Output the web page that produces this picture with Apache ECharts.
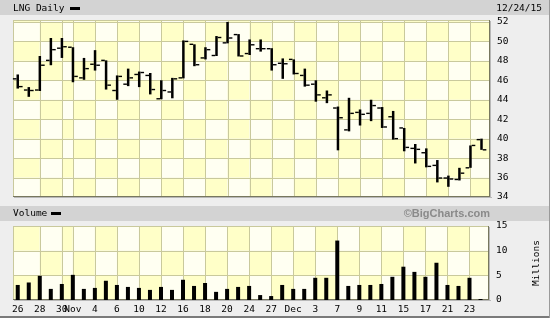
<!DOCTYPE html>
<html><head><meta charset="utf-8">
<script src="https://cdn.jsdelivr.net/npm/echarts@6/dist/echarts.min.js"></script>
<style>html,body{margin:0;padding:0;background:#eeeeee;}#c{width:550px;height:318px;}</style>
</head><body><div id="c"></div>
<script>
// ---- data ----
const dates = ['10/26','10/27','10/28','10/29','10/30','11/02','11/03','11/04','11/05','11/06','11/09','11/10','11/11','11/12','11/13','11/16','11/17','11/18','11/19','11/20','11/23','11/24','11/25','11/27','11/30','12/01','12/02','12/03','12/04','12/07','12/08','12/09','12/10','12/11','12/14','12/15','12/16','12/17','12/18','12/21','12/22','12/23','12/24'];
const openP  = [46.15,45.0,45.0,48.05,49.3,49.4,46.25,47.65,48.05,44.95,45.6,46.6,46.5,44.1,44.8,46.25,49.7,48.3,48.55,49.85,50.7,48.75,49.25,49.25,47.75,48.15,46.5,45.6,44.2,43.15,40.9,42.7,42.6,43.15,42.25,41.1,39.0,38.55,37.25,35.95,35.8,37.0,39.9];
const highP  = [46.6,45.3,48.5,50.35,50.35,49.4,48.3,49.1,48.05,46.5,47.2,46.9,46.75,46.0,46.25,50.1,49.7,49.4,50.55,52.0,50.75,50.2,50.2,49.3,48.25,48.15,47.2,46.0,44.95,43.3,44.2,43.0,44.0,43.25,42.85,41.1,39.45,39.0,37.8,36.2,37.0,39.3,40.0];
const lowP   = [45.15,44.3,44.9,47.55,48.3,45.8,46.05,47.0,45.05,44.0,45.4,45.3,44.55,44.05,44.15,46.2,47.45,48.15,48.5,49.8,48.45,48.6,48.95,47.0,46.15,46.6,45.35,43.8,43.65,38.8,40.75,41.35,41.8,41.1,39.9,38.7,37.45,37.05,35.5,35.05,35.7,37.0,38.85];
const closeP = [45.35,44.95,47.55,49.15,49.45,46.4,47.2,47.55,45.5,46.4,46.25,46.8,45.05,44.95,46.15,50.0,47.6,49.15,50.4,50.35,48.5,49.65,49.25,47.6,47.7,46.7,45.5,44.5,44.5,42.15,42.6,42.5,43.4,41.2,40.0,39.1,38.9,37.15,35.95,35.85,36.45,39.3,38.85];
const volume = [3.05,3.55,4.9,2.25,3.25,5.1,2.25,2.45,3.9,3.05,2.65,2.45,2.05,2.65,2.05,4.1,2.85,3.45,1.65,2.25,2.65,2.85,1.0,0.8,3.05,2.25,2.25,4.5,4.5,12.05,2.85,3.05,3.05,3.25,4.7,6.75,5.7,4.7,7.55,3.05,2.85,4.5,0.2];
const xTickIdx    = [0,2,4,5,7,9,11,13,15,17,19,21,23,25,27,29,31,33,35,37,39,41];
const xTickLabels = ['26','28','30','Nov','4','6','10','12','16','18','20','24','27','Dec','3','7','9','11','15','17','21','23'];
const priceTicks  = [34,36,38,40,42,44,46,48,50,52];
const volTicks    = [0,5,10,15];

// ---- styling / layout ----
const X_MIN = -0.43, X_MAX = 42.77;
const P_MIN = 34, P_MAX = 52.2, V_MIN = 0, V_MAX = 15;
const GRID_LINE = '#c9c99c';
const CELL_A = '#ffffc8', CELL_B = '#fffff2';
const MONO = '"DejaVu Sans Mono", monospace';

function background(yBounds) {
  return function (params, api) {
    const xs = [X_MIN].concat(xTickIdx.filter(i => i > 0), [X_MAX]);
    const ys = yBounds;
    const ch = [];
    const nRows = ys.length - 1;
    for (let r = 0; r < nRows; r++) {
      const topIdx = nRows - 1 - r;
      for (let c = 0; c < xs.length - 1; c++) {
        const p1 = api.coord([xs[c], ys[r + 1]]);
        const p2 = api.coord([xs[c + 1], ys[r]]);
        ch.push({type: 'rect', shape: {x: p1[0], y: p1[1], width: p2[0] - p1[0], height: p2[1] - p1[1]},
                 style: {fill: (c + topIdx) % 2 === 0 ? CELL_A : CELL_B}});
      }
    }
    const tl = api.coord([X_MIN, ys[ys.length - 1]]);
    const br = api.coord([X_MAX, ys[0]]);
    xs.slice(1, -1).forEach(v => {
      const p = api.coord([v, ys[0]]);
      ch.push({type: 'rect', shape: {x: Math.round(p[0]), y: tl[1], width: 1, height: br[1] - tl[1]}, style: {fill: GRID_LINE}});
    });
    ys.slice(1).forEach(v => {
      const p = api.coord([X_MIN, v]);
      ch.push({type: 'rect', shape: {x: tl[0], y: Math.round(p[1]), width: br[0] - tl[0], height: 1}, style: {fill: GRID_LINE}});
    });
    ch.push({type: 'rect', shape: {x: Math.round(tl[0]), y: tl[1], width: 1, height: br[1] - tl[1]}, style: {fill: GRID_LINE}});
    ch.push({type: 'rect', shape: {x: Math.round(tl[0]), y: Math.round(tl[1]), width: br[0] - tl[0], height: 1}, style: {fill: GRID_LINE}});
    ch.push({type: 'rect', shape: {x: tl[0], y: Math.round(br[1]) - 1, width: br[0] - tl[0] + 1, height: 1}, style: {fill: '#77775e'}});
    ch.push({type: 'rect', shape: {x: tl[0] + 1, y: Math.round(br[1]), width: br[0] - tl[0] + 1, height: 1}, style: {fill: '#b8b8b8'}});
    ch.push({type: 'rect', shape: {x: Math.round(br[0]) - 1, y: tl[1], width: 1, height: br[1] - tl[1]}, style: {fill: '#77775e'}});
    ch.push({type: 'rect', shape: {x: Math.round(br[0]), y: tl[1] + 1, width: 1, height: br[1] - tl[1]}, style: {fill: '#b8b8b8'}});
    return {type: 'group', children: ch};
  };
}

function ohlcItem(params, api) {
  const x = api.value(0);
  const pO = api.coord([x, api.value(1)]);
  const pH = api.coord([x, api.value(2)]);
  const pL = api.coord([x, api.value(3)]);
  const pC = api.coord([x, api.value(4)]);
  const cx = pH[0], bw = 2.5, tk = 3.6, th = 1.4;
  return {type: 'group', children: [
    {type: 'rect', shape: {x: cx - bw / 2, y: pH[1], width: bw, height: Math.max(pL[1] - pH[1], 1)}, style: {fill: '#000'}},
    {type: 'rect', shape: {x: cx - bw / 2 - tk, y: pO[1] - th / 2, width: tk, height: th}, style: {fill: '#000'}},
    {type: 'rect', shape: {x: cx + bw / 2, y: pC[1] - th / 2, width: tk, height: th}, style: {fill: '#000'}}
  ]};
}

function xLabelItem(params, api) {
  const p = api.coord([api.value(0), V_MIN]);
  return {type: 'text', x: p[0], y: p[1] + 5,
          style: {text: xTickLabels[params.dataIndex], fill: '#000', font: '9.5px ' + MONO, align: 'center', verticalAlign: 'top'}};
}

const chart = echarts.init(document.getElementById('c'), null, {renderer: 'canvas'});
const intFmt = v => (Math.abs(v - Math.round(v)) < 1e-6 ? String(Math.round(v)) : '');
const priceLbl = {color: '#000', fontFamily: MONO, fontSize: 9.5, margin: 7, align: 'left', showMaxLabel: false, formatter: intFmt};
const volLbl = {color: '#000', fontFamily: MONO, fontSize: 9.5, margin: 7, align: 'left', showMaxLabel: true, showMinLabel: true, formatter: intFmt};

chart.setOption({
  backgroundColor: '#eeeeee',
  animation: false,
  grid: [
    {left: 13, right: 60, top: 20, bottom: 121},
    {left: 13, right: 60, top: 226, bottom: 18}
  ],
  xAxis: [
    {type: 'value', gridIndex: 0, min: X_MIN, max: X_MAX, show: false},
    {type: 'value', gridIndex: 1, min: X_MIN, max: X_MAX, show: false}
  ],
  yAxis: [
    {type: 'value', gridIndex: 0, position: 'right', min: P_MIN, max: P_MAX, interval: 2,
     axisLine: {show: false}, axisTick: {show: false}, splitLine: {show: false}, axisLabel: priceLbl},
    {type: 'value', gridIndex: 1, position: 'right', min: V_MIN, max: V_MAX, interval: 5,
     axisLine: {show: false}, axisTick: {show: false}, splitLine: {show: false}, axisLabel: volLbl,
     name: 'Millions', nameLocation: 'middle', nameRotate: 90, nameGap: 43,
     nameTextStyle: {color: '#000', fontFamily: MONO, fontSize: 9.5}}
  ],
  graphic: [
    {type: 'rect', shape: {x: 0, y: 0, width: 550, height: 15}, style: {fill: '#d3d3d3'}},
    {type: 'text', x: 13, y: 8.5, style: {text: 'LNG Daily', fill: '#000', font: '9.5px ' + MONO, verticalAlign: 'middle'}},
    {type: 'rect', shape: {x: 70, y: 7, width: 10, height: 3}, style: {fill: '#000'}},
    {type: 'text', x: 542, y: 8.5, style: {text: '12/24/15', fill: '#000', font: '9.5px ' + MONO, align: 'right', verticalAlign: 'middle'}},
    {type: 'rect', shape: {x: 0, y: 206, width: 550, height: 15}, style: {fill: '#d3d3d3'}},
    {type: 'text', x: 13, y: 213.5, style: {text: 'Volume', fill: '#000', font: '9.5px ' + MONO, verticalAlign: 'middle'}},
    {type: 'rect', shape: {x: 51, y: 212, width: 10, height: 3}, style: {fill: '#000'}},
    {type: 'text', x: 490, y: 213.5, style: {text: '\u00A9BigCharts.com', fill: '#8a8a8a', font: 'bold 11px "Liberation Sans", Arial, sans-serif', align: 'right', verticalAlign: 'middle'}},
    {type: 'rect', shape: {x: 0, y: 316, width: 550, height: 2}, style: {fill: '#7a7a7a'}},
    {type: 'rect', shape: {x: 549, y: 0, width: 1, height: 318}, style: {fill: '#9a9a9a'}}
  ],
  series: [
    {type: 'custom', name: 'bgPrice', xAxisIndex: 0, yAxisIndex: 0, z: 1, silent: true,
     renderItem: background(priceTicks.concat([P_MAX])), data: [[X_MIN, P_MIN]], encode: {x: 0, y: 1}},
    {type: 'custom', name: 'bgVol', xAxisIndex: 1, yAxisIndex: 1, z: 1, silent: true,
     renderItem: background(volTicks), data: [[X_MIN, V_MIN]], encode: {x: 0, y: 1}},
    {type: 'custom', name: 'LNG', xAxisIndex: 0, yAxisIndex: 0, z: 3,
     renderItem: ohlcItem, encode: {x: 0, y: [1, 2, 3, 4]},
     data: dates.map((d, i) => [i, openP[i], highP[i], lowP[i], closeP[i]])},
    {type: 'bar', name: 'Volume', xAxisIndex: 1, yAxisIndex: 1, z: 3, barWidth: 4,
     itemStyle: {color: '#000'}, data: volume.map((v, i) => [i, v])},
    {type: 'custom', name: 'xLabels', xAxisIndex: 1, yAxisIndex: 1, z: 3, silent: true,
     renderItem: xLabelItem, data: xTickIdx.map(i => [i, V_MIN]), encode: {x: 0, y: 1}}
  ]
});
</script></body></html>
